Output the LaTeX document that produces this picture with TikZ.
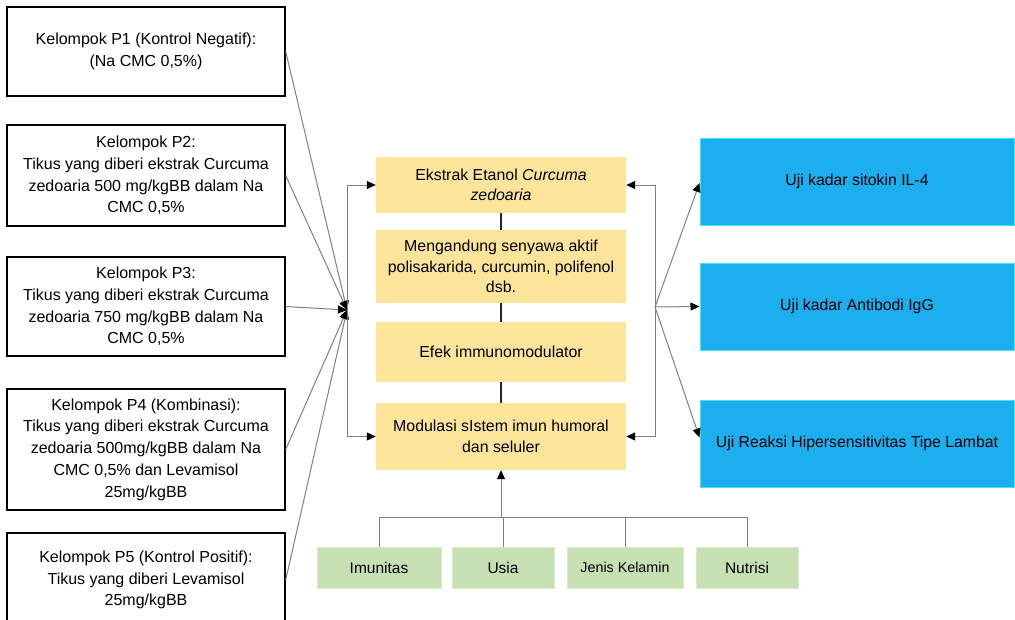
\documentclass[tikz,border=0pt]{standalone}
\usepackage{fontspec}
\setmainfont{Liberation Sans}
\usetikzlibrary{arrows.meta,calc}
\definecolor{grpline}{HTML}{808080}
\definecolor{yellowbox}{HTML}{FCE59B}
\definecolor{bluebox}{HTML}{1CAEEE}
\definecolor{blueedge}{HTML}{40E4F2}
\definecolor{greenbox}{HTML}{C6E0B4}
\definecolor{greenedge}{HTML}{D8ECCB}
\tikzset{
  grpbox/.style={draw=black, line width=1.4pt, fill=white, align=center,
    minimum width=278pt, inner sep=0pt, font=\fontsize{16}{21.7}\selectfont},
  flowbox/.style={fill=yellowbox, align=center, minimum width=250pt, inner sep=0pt,
    font=\fontsize{15.9}{20.5}\selectfont},
  testbox/.style={fill=bluebox, draw=blueedge, line width=1pt, align=center,
    minimum width=314pt, minimum height=87pt, inner sep=0pt,
    font=\fontsize{15.8}{20}\selectfont},
  factorbox/.style={fill=greenbox, draw=greenedge, line width=0.6pt, align=center,
    minimum height=41pt, inner sep=0pt, font=\fontsize{15.5}{20}\selectfont},
  link/.style={draw=grpline, line width=1pt},
  arrowlink/.style={link, -{Triangle[length=9pt,width=8pt,color=black]}},
  chain/.style={draw=black!85, line width=1.4pt},
}
\begin{document}
\begin{tikzpicture}[x=1pt,y=-1pt]
\useasboundingbox (0,0) rectangle (1015,619);

% treatment groups
\node[grpbox, minimum height=89pt] (p1) at (146,51.5)
  {Kelompok P1 (Kontrol Negatif):\\(Na CMC 0,5\%)};
\node[grpbox, minimum height=101pt] (p2) at (146,175.5)
  {Kelompok P2:\\Tikus yang diberi ekstrak Curcuma\\zedoaria 500 mg/kgBB dalam Na\\CMC 0,5\%};
\node[grpbox, minimum height=99pt] (p3) at (146,306.5)
  {Kelompok P3:\\Tikus yang diberi ekstrak Curcuma\\zedoaria 750 mg/kgBB dalam Na\\CMC 0,5\%};
\node[grpbox, minimum height=121pt] (p4) at (146,449.5)
  {Kelompok P4 (Kombinasi):\\Tikus yang diberi ekstrak Curcuma\\zedoaria 500mg/kgBB dalam Na\\CMC 0,5\% dan Levamisol\\25mg/kgBB};
\node[grpbox, minimum height=94pt] (p5) at (146,580)
  {Kelompok P5 (Kontrol Positif):\\Tikus yang diberi Levamisol\\25mg/kgBB};

% mechanism chain
\node[flowbox, minimum height=56pt] (y1) at (501,185)
  {Ekstrak Etanol \textit{Curcuma}\\\textit{zedoaria}};
\node[flowbox, minimum height=73pt] (y2) at (501,266.5)
  {Mengandung senyawa aktif\\polisakarida, curcumin, polifenol\\dsb.};
\node[flowbox, minimum height=60pt] (y3) at (501,352)
  {Efek immunomodulator};
\node[flowbox, minimum height=67pt] (y4) at (501,436.5)
  {Modulasi sIstem imun humoral\\dan seluler};

% measured outcomes
\node[testbox] (u1) at (857,181.5) {Uji kadar sitokin IL-4};
\node[testbox] (u2) at (857,306.5) {Uji kadar Antibodi IgG};
\node[testbox] (u3) at (857,443.5) {Uji Reaksi Hipersensitivitas Tipe Lambat};

% influencing factors
\node[factorbox, minimum width=124pt] (g1) at (379,567.5) {Imunitas};
\node[factorbox, minimum width=102pt] (g2) at (503,567.5) {Usia};
\node[factorbox, minimum width=116pt, font=\fontsize{14.3}{18}\selectfont] (g3) at (625,567.5) {Jenis Kelamin};
\node[factorbox, minimum width=102pt] (g4) at (747,567.5) {Nutrisi};

% junction points
\coordinate (lhub) at (347,310);
\coordinate (rhub) at (655,307);
\coordinate (bus) at (501,517);

% groups converge on the left hub
\foreach \g in {p1,p2,p3,p4,p5}
  \draw[arrowlink] (\g.east) -- (lhub);
\draw[arrowlink] (lhub) |- (y1.west);
\draw[arrowlink] (lhub) |- (y4.west);

% chain links
\draw[chain] (y1.south) -- (y2.north);
\draw[chain] (y2.south) -- (y3.north);
\draw[chain] (y3.south) -- (y4.north);

% right hub back to chain and out to tests
\draw[arrowlink] (rhub) |- (y1.east);
\draw[arrowlink] (rhub) |- (y4.east);
\draw[arrowlink] (rhub) -- ($(u1.west)+(0,1.5)$);
\draw[arrowlink] (rhub) -- (u2.west);
\draw[arrowlink] (rhub) -- ($(u3.west)+(0,-6)$);

% factors bus
\draw[link] (g1.north) -- (g1.north |- bus) -- (g4.north |- bus) -- (g4.north);
\draw[link] (g2.north) -- (g2.north |- bus);
\draw[link] (g3.north) -- (g3.north |- bus);
\draw[arrowlink] (bus) -- (y4.south);
\end{tikzpicture}
\end{document}
